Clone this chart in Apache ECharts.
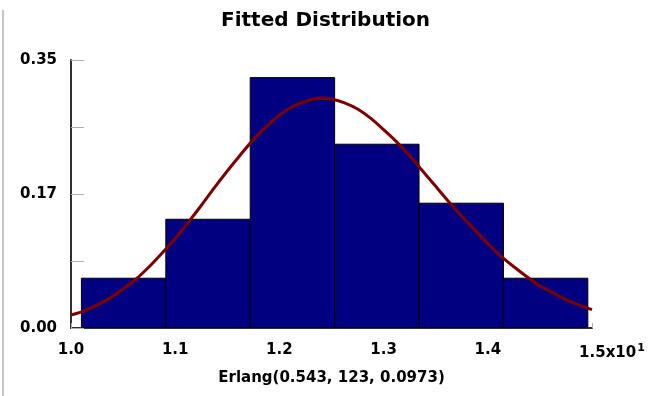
<!DOCTYPE html>
<html>
<head>
<meta charset="utf-8">
<title>Fitted Distribution</title>
<script src="https://cdn.jsdelivr.net/npm/echarts@6/dist/echarts.min.js"></script>
<style>
  html, body { margin: 0; padding: 0; background: #ffffff; }
  #chart { width: 653px; height: 396px; }
</style>
</head>
<body>
<div id="chart"></div>
<script>
// Histogram bins (x in units of 10) and relative frequencies
const binEdges = [1.010, 1.091, 1.172, 1.253, 1.334, 1.415, 1.496];
const binFreq = [0.065, 0.142, 0.327, 0.240, 0.163, 0.065];

// Fitted Erlang curve, scaled to bin width
const curveX = [1.0000, 1.0125, 1.0250, 1.0375, 1.0500, 1.0625, 1.0750, 1.0875,
                1.1000, 1.1125, 1.1250, 1.1375, 1.1500, 1.1625, 1.1750, 1.1875,
                1.2000, 1.2125, 1.2250, 1.2375, 1.2500, 1.2625, 1.2750, 1.2875,
                1.3000, 1.3125, 1.3250, 1.3375, 1.3500, 1.3625, 1.3750, 1.3875,
                1.4000, 1.4125, 1.4250, 1.4375, 1.4500, 1.4625, 1.4750, 1.4875,
                1.5000];
const curveY = [0.017, 0.022, 0.030, 0.039, 0.051, 0.064, 0.080, 0.098,
                0.117, 0.138, 0.160, 0.183, 0.205, 0.226, 0.246, 0.263,
                0.278, 0.289, 0.296, 0.300, 0.299, 0.294, 0.286, 0.274,
                0.259, 0.243, 0.225, 0.205, 0.185, 0.165, 0.146, 0.128,
                0.110, 0.094, 0.080, 0.067, 0.055, 0.046, 0.037, 0.030,
                0.024];

// Axis tick labels
const xTickLabels = ['1.0', '1.1', '1.2', '1.3', '1.4', '1.5'];
const yTickLabels = ['0.00', '', '0.17', '', '0.35'];

const titleText = 'Fitted Distribution';
const xAxisTitle = 'Erlang(0.543, 123, 0.0973)';

const FONT = '"DejaVu Sans", "Liberation Sans", sans-serif';

const barData = binFreq.map((f, i) => [binEdges[i], binEdges[i + 1], f]);
const curveData = curveX.map((x, i) => [x, curveY[i]]);

const chart = echarts.init(document.getElementById('chart'), null, { renderer: 'canvas' });

chart.setOption({
  backgroundColor: '#ffffff',
  animation: false,
  title: {
    text: titleText,
    left: 216,
    top: 6,
    textStyle: { fontFamily: FONT, fontWeight: 'bold', fontSize: 20, color: '#000000' }
  },
  graphic: [{
    type: 'rect',
    left: 2,
    top: 10,
    shape: { width: 2, height: 386 },
    style: { fill: '#c4c4c4' },
    silent: true
  }],
  grid: { left: 71, right: 61, top: 60, bottom: 68, containLabel: false },
  xAxis: {
    type: 'value',
    min: 1.0,
    max: 1.5,
    interval: 0.1,
    name: xAxisTitle,
    nameLocation: 'middle',
    nameGap: 43,
    nameTextStyle: { fontFamily: FONT, fontWeight: 'bold', fontSize: 15, color: '#000000' },
    axisLine: { show: true, onZero: false, lineStyle: { color: '#303030', width: 2 } },
    axisTick: { show: true, inside: true, length: 5, lineStyle: { color: '#b0b0b0', width: 1 } },
    splitLine: { show: false },
    axisLabel: {
      margin: 15,
      fontFamily: FONT,
      fontWeight: 'bold',
      fontSize: 15,
      color: '#000000',
      formatter: function (val, idx) {
        const label = xTickLabels[idx] || '';
        if (idx === xTickLabels.length - 1) {
          return '{pad|}{n|' + label + 'x10}{sup|1}';
        }
        return label;
      },
      rich: {
        pad: { width: 40 },
        n: { fontFamily: FONT, fontWeight: 'bold', fontSize: 15, color: '#000000' },
        sup: { fontFamily: FONT, fontWeight: 'bold', fontSize: 11, color: '#000000', verticalAlign: 'top', padding: [0, 0, 10, 1] }
      }
    }
  },
  yAxis: {
    type: 'value',
    min: 0,
    max: 0.35,
    interval: 0.0875,
    axisLine: { show: true, onZero: false, lineStyle: { color: '#303030', width: 2 } },
    axisTick: { show: true, inside: true, length: 13, lineStyle: { color: '#b0b0b0', width: 1 } },
    splitLine: { show: false },
    axisLabel: {
      margin: 14,
      fontFamily: FONT,
      fontWeight: 'bold',
      fontSize: 15,
      color: '#000000',
      formatter: function (val, idx) { return yTickLabels[idx] || ''; }
    }
  },
  series: [
    {
      type: 'custom',
      name: 'Histogram',
      data: barData,
      encode: { x: [0, 1], y: 2 },
      clip: true,
      renderItem: function (params, api) {
        const topLeft = api.coord([api.value(0), api.value(2)]);
        const bottomRight = api.coord([api.value(1), 0]);
        return {
          type: 'rect',
          shape: {
            x: topLeft[0],
            y: topLeft[1],
            width: bottomRight[0] - topLeft[0],
            height: bottomRight[1] - topLeft[1]
          },
          style: { fill: '#000080', stroke: '#000000', lineWidth: 1 }
        };
      },
      z: 2
    },
    {
      type: 'line',
      name: 'Erlang fit',
      data: curveData,
      smooth: 0.25,
      symbol: 'none',
      clip: false,
      lineStyle: { color: '#800000', width: 3 },
      z: 3
    }
  ]
});
</script>
</body>
</html>
